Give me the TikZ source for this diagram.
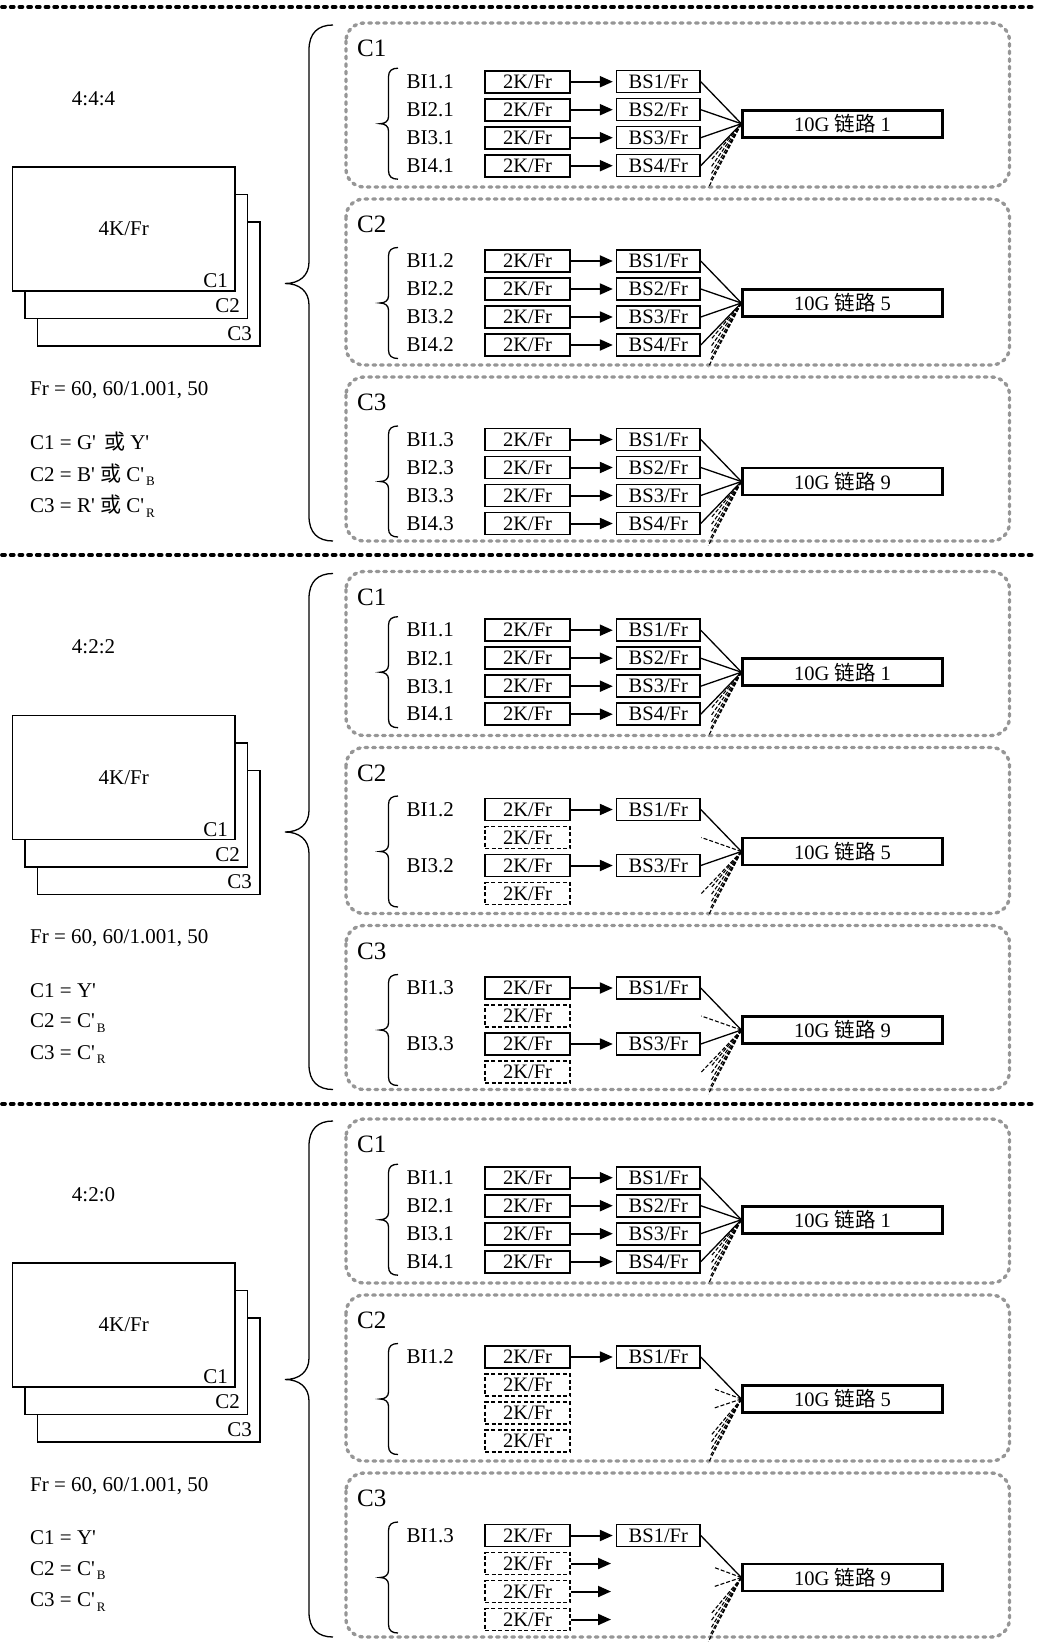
\documentclass[tikz,border=0pt]{standalone}
\usepackage{fontspec}
\setmainfont{Liberation Serif}[Ligatures=TeXOff]
\newfontfamily\cjk{Noto Sans CJK SC}
\usetikzlibrary{arrows.meta}
\definecolor{boxgray}{RGB}{150,150,150}
\tikzset{
 txt/.style={font=\fontsize{21}{24}\selectfont, inner sep=0pt},
 clab/.style={font=\fontsize{25}{28}\selectfont, inner sep=0pt},
 bilab/.style={font=\fontsize{21}{24}\selectfont, inner sep=0pt},
 kbox/.style={draw, line width=1.9pt, minimum width=85pt, minimum height=22pt, inner sep=0pt, font=\fontsize{20.5}{22}\selectfont},
 kboxd/.style={kbox, dash pattern=on 4pt off 2.5pt},
 sbox/.style={draw, line width=1.6pt, minimum width=83.3pt, minimum height=22pt, inner sep=0pt, font=\fontsize{20.5}{22}\selectfont},
 lbox/.style={draw, line width=2.8pt, minimum width=199.5pt, minimum height=27pt, inner sep=0pt, font=\fontsize{20.5}{22}\selectfont},
 arr/.style={line width=2pt, -{Triangle[length=13pt,width=11pt]}, shorten >=3pt},
 feed/.style={line width=1.3pt},
 fan/.style={line width=1.1pt, dash pattern=on 4pt off 2pt},
 cbox/.style={draw=boxgray, line width=3.4pt, line cap=round, dash pattern=on 2.6pt off 5pt, rounded corners=18pt},
 sbrace/.style={line width=1.3pt},
 bbrace/.style={line width=1.3pt},
 frame/.style={draw, fill=white, line width=1.5pt, minimum width=222.4pt, minimum height=124pt, inner sep=0pt, font=\fontsize{21}{24}\selectfont},
 sep/.style={line width=3.8pt, line cap=round, dash pattern=on 3pt off 5.7pt},
}
\newcommand\sbs[1]{\hspace{2pt}\raisebox{-4.5pt}{\fontsize{13}{13}\selectfont #1}}
% #1 prefix, #2 top, #3 bottom, #4 row1 y, #5 label, #6 link number
\newcommand\grpbase[6]{%
 \draw[cbox] (346,#2) rectangle (1009.5,#3);
 \node[clab,anchor=west] (#1lab) at (357,{#2+25.5}) {#5};
 \draw[sbrace] (398,{#4-13.5}) .. controls (392,{#4-13.5}) and (388.5,{#4-11}) .. (388.5,{#4-5}) -- (388.5,{#4+35}) .. controls (388.5,{#4+39.5}) and (385,{#4+42}) .. (380,{#4+42}) .. controls (385,{#4+42}) and (388.5,{#4+44.5}) .. (388.5,{#4+49}) -- (388.5,{#4+89}) .. controls (388.5,{#4+95}) and (392,{#4+97.5}) .. (398,{#4+97.5});
 \node[lbox] (#1L) at (842.5,{#4+42}) {10G {\cjk 链路} #6};
 \foreach \fx/\fy in {-30/36,-30/43,-30/50,-31/57,-33/64} \draw[fan] (#1L.west) -- ++(\fx,\fy);
}
\newcommand\fullrow[4]{%
 \node[bilab,anchor=west] (#1b#2) at (406.5,#3) {#4};
 \node[kbox] (#1k#2) at (527.5,#3) {2K/Fr};
 \node[sbox] (#1s#2) at (658.3,#3) {BS#2/Fr};
 \draw[arr] (#1k#2) -- (#1s#2);
 \draw[feed] (#1s#2.east) -- (#1L.west);
}
\newcommand\emptyrow[3]{%
 \node[kboxd] (#1k#2) at (527.5,#3) {2K/Fr};
}
\newcommand\emptyrowarrow[3]{%
 \node[kboxd] (#1k#2) at (527.5,#3) {2K/Fr};
 \coordinate (#1e#2) at (611,#3);
 \draw[arr,shorten >=0pt] (#1k#2) -- (#1e#2);
}
\newcommand\ghost[3]{\draw[fan] (#1L.west) -- ++(#2,#3);}
% #1 prefix, #2 ratio, #3-#5 lines
\newcommand\leftside[5]{%
 \node[txt] (#1ratio) at (93.5,98.5) {#2};
 \node[frame] (#1f3) at (148.8,284) {};
 \node[frame] (#1f2) at (136.3,256.5) {};
 \node[frame] (#1f1) at (123.8,229) {4K/Fr};
 \node[txt,anchor=east] (#1n1) at (228,281) {C1};
 \node[txt,anchor=east] (#1n2) at (240,306) {C2};
 \node[txt,anchor=east] (#1n3) at (252,333.5) {C3};
 \node[txt,anchor=west] (#1fr) at (30,390) {Fr = 60, 60/1.001, 50};
 \node[txt,anchor=west] (#1d1) at (30,442) {#3};
 \node[txt,anchor=west] (#1d2) at (30,474.5) {#4};
 \node[txt,anchor=west] (#1d3) at (30,506) {#5};
 \draw[bbrace] (333,25) .. controls (318,25) and (309,33) .. (309,50) -- (309,262) .. controls (309,276) and (299,283.5) .. (285,283.5) .. controls (299,283.5) and (309,291) .. (309,305) -- (309,516) .. controls (309,533) and (318,541) .. (333,541);
}
\begin{document}
\begin{tikzpicture}[x=1pt,y=-1pt]
\useasboundingbox (0,0) rectangle (1038,1645);
\draw[sep] (2,7) -- (1036,7);
\draw[sep] (2,555) -- (1036,555);
\draw[sep] (2,1104) -- (1036,1104);
% ---------------- panel 1: 4:4:4
\leftside{a}{4:4:4}{C1 = G'\hspace{8pt}{\cjk 或} Y'}{C2 = B' {\cjk 或} C'\sbs{B}}{C3 = R' {\cjk 或} C'\sbs{R}}
\grpbase{aa}{23}{187}{81.7}{C1}{1}
\fullrow{aa}{1}{81.7}{BI1.1}
\fullrow{aa}{2}{109.7}{BI2.1}
\fullrow{aa}{3}{137.7}{BI3.1}
\fullrow{aa}{4}{165.7}{BI4.1}
\grpbase{ab}{199}{365}{261}{C2}{5}
\fullrow{ab}{1}{261}{BI1.2}
\fullrow{ab}{2}{289}{BI2.2}
\fullrow{ab}{3}{317}{BI3.2}
\fullrow{ab}{4}{345}{BI4.2}
\grpbase{ac}{377}{541}{439.5}{C3}{9}
\fullrow{ac}{1}{439.5}{BI1.3}
\fullrow{ac}{2}{467.5}{BI2.3}
\fullrow{ac}{3}{495.5}{BI3.3}
\fullrow{ac}{4}{523.5}{BI4.3}
% ---------------- panel 2: 4:2:2
\begin{scope}[shift={(0,548.5)}]
\leftside{b}{4:2:2}{C1 = Y'}{C2 = C'\sbs{B}}{C3 = C'\sbs{R}}
\grpbase{ba}{23}{187}{81.7}{C1}{1}
\fullrow{ba}{1}{81.7}{BI1.1}
\fullrow{ba}{2}{109.7}{BI2.1}
\fullrow{ba}{3}{137.7}{BI3.1}
\fullrow{ba}{4}{165.7}{BI4.1}
\grpbase{bb}{199}{365}{261}{C2}{5}
\fullrow{bb}{1}{261}{BI1.2}
\emptyrow{bb}{2}{289}
\fullrow{bb}{3}{317}{BI3.2}
\emptyrow{bb}{4}{345}
\ghost{bb}{-40}{-14}
\ghost{bb}{-40}{42}
\grpbase{bc}{377}{541}{439.5}{C3}{9}
\fullrow{bc}{1}{439.5}{BI1.3}
\emptyrow{bc}{2}{467.5}
\fullrow{bc}{3}{495.5}{BI3.3}
\emptyrow{bc}{4}{523.5}
\ghost{bc}{-40}{-14}
\ghost{bc}{-40}{42}
\end{scope}
% ---------------- panel 3: 4:2:0
\begin{scope}[shift={(0,1096)}]
\leftside{c}{4:2:0}{C1 = Y'}{C2 = C'\sbs{B}}{C3 = C'\sbs{R}}
\grpbase{ca}{23}{187}{81.7}{C1}{1}
\fullrow{ca}{1}{81.7}{BI1.1}
\fullrow{ca}{2}{109.7}{BI2.1}
\fullrow{ca}{3}{137.7}{BI3.1}
\fullrow{ca}{4}{165.7}{BI4.1}
\grpbase{cb}{199}{365}{261}{C2}{5}
\fullrow{cb}{1}{261}{BI1.2}
\emptyrow{cb}{2}{289}
\emptyrow{cb}{3}{317}
\emptyrow{cb}{4}{345}
\ghost{cb}{-27}{-10}
\ghost{cb}{-27}{9}
\grpbase{cc}{377}{541}{439.5}{C3}{9}
\fullrow{cc}{1}{439.5}{BI1.3}
\emptyrowarrow{cc}{2}{467.5}
\emptyrowarrow{cc}{3}{495.5}
\emptyrowarrow{cc}{4}{523.5}
\ghost{cc}{-27}{-10}
\ghost{cc}{-27}{9}
\end{scope}
\end{tikzpicture}
\end{document}
